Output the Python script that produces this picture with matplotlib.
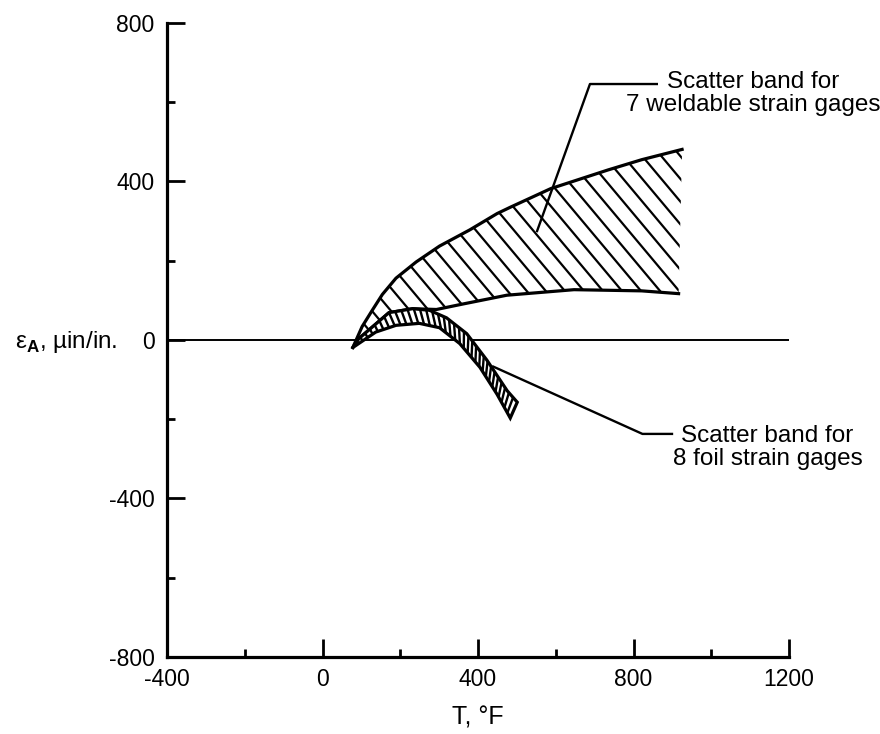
import numpy as np
import matplotlib
matplotlib.use('Agg')
import matplotlib.pyplot as plt
from matplotlib.collections import LineCollection
from matplotlib.patches import Polygon
from matplotlib.ticker import MultipleLocator

plt.rcParams['font.family'] = ['Liberation Sans', 'DejaVu Sans']
plt.rcParams['mathtext.fontset'] = 'custom'
plt.rcParams['mathtext.rm'] = 'Liberation Sans'
plt.rcParams['mathtext.bf'] = 'Liberation Sans:bold'
plt.rcParams['axes.unicode_minus'] = False

# scatter band for 7 weldable gages (T in deg F, apparent strain in microin/in.)
weld_upper_t = [78, 102, 128, 154, 189, 241, 301, 379, 449, 483, 587, 734, 821, 925]
weld_upper_e = [-19, 34, 75, 115, 156, 197, 237, 278, 319, 335, 382, 429, 455, 481]
weld_lower_t = [78, 93, 171, 232, 293, 362, 474, 647, 821, 916]
weld_lower_e = [-19, 3, 69, 79, 77, 91, 113, 127, 124, 117]

# scatter band for 8 foil gages
foil_upper_t = [78, 93, 171, 232, 275, 319, 371, 423, 475, 501]
foil_upper_e = [-19, 3, 69, 79, 75, 56, 16, -51, -128, -157]
foil_lower_t = [78, 137, 189, 249, 301, 353, 405, 449, 483]
foil_lower_e = [-19, 20, 37, 42, 31, -9, -69, -137, -197]

# leader lines for the two labels
weld_leader_t = [552, 688, 860]
weld_leader_e = [275, 646, 646]
foil_leader_t = [439, 823, 899]
foil_leader_e = [-67, -237, -237]

x_ticks = [-400, 0, 400, 800, 1200]
y_ticks = [-800, -400, 0, 400, 800]


def resample(t, e, n):
    t = np.asarray(t, float)
    e = np.asarray(e, float)
    s = np.concatenate([[0], np.cumsum(np.hypot(np.diff(t), np.diff(e)))])
    u = np.linspace(0, s[-1], n)
    return np.interp(u, s, t), np.interp(u, s, e)


fig = plt.figure(figsize=(8.8, 7.34), dpi=100)
ax = fig.add_axes([167 / 880, 1 - 657 / 734, 622 / 880, 634 / 734])
ax.set_xlim(-400, 1200)
ax.set_ylim(-800, 800)

# zero line
ax.plot([-400, 1200], [0, 0], color='black', lw=1.4, zorder=2)

# weldable band: diagonal hatch clipped to the band outline
poly_t = weld_upper_t + weld_lower_t[::-1]
poly_e = weld_upper_e + weld_lower_e[::-1]
band = Polygon(np.column_stack([poly_t, poly_e]), closed=True, facecolor='none',
               edgecolor='none', zorder=1)
ax.add_patch(band)
hatch = []
for c in np.arange(-300, 1500, 49):
    hatch.append([(c - 3 * 334, 3 * 391), (c + 3 * 334, -3 * 391)])
hc = LineCollection(hatch, colors='black', linewidths=1.6, zorder=1)
ax.add_collection(hc)
hc.set_clip_path(band)
ax.plot(weld_upper_t, weld_upper_e, color='black', lw=2.3, zorder=3)
ax.plot(weld_lower_t, weld_lower_e, color='black', lw=2.3, zorder=3)

# foil band, white fill with rungs across it
ft = foil_upper_t + foil_lower_t[::-1]
fe = foil_upper_e + foil_lower_e[::-1]
ax.fill(ft, fe, facecolor='white', edgecolor='black', lw=2.3, zorder=4)
n = 36
ut, ue = resample(foil_upper_t, foil_upper_e, n)
lt, le = resample(foil_lower_t, foil_lower_e, n)
segs = [[(ut[i], ue[i]), (lt[i], le[i])] for i in range(2, n - 1)]
ax.add_collection(LineCollection(segs, colors='black', linewidths=1.7, zorder=5))

# leaders and labels
ax.plot(weld_leader_t, weld_leader_e, color='black', lw=1.7, clip_on=False, zorder=6)
ax.plot(foil_leader_t, foil_leader_e, color='black', lw=1.7, clip_on=False, zorder=6)
ax.text(1109, 622, 'Scatter band for\n7 weldable strain gages', fontsize=17.5,
        ha='center', va='center', linespacing=1.05)
ax.text(1145, -272, 'Scatter band for\n8 foil strain gages', fontsize=17.5,
        ha='center', va='center', linespacing=1.05)

# axes styling
for side in ['top', 'right']:
    ax.spines[side].set_visible(False)
for side in ['left', 'bottom']:
    ax.spines[side].set_linewidth(2.3)
ax.set_xticks(x_ticks)
ax.set_yticks(y_ticks)
ax.xaxis.set_minor_locator(MultipleLocator(200))
ax.yaxis.set_minor_locator(MultipleLocator(200))
ax.tick_params(which='major', direction='in', length=13, width=2, labelsize=16.5, pad=8)
ax.tick_params(which='minor', direction='in', length=6, width=2)
ax.tick_params(axis='y', pad=9)
ax.set_xlabel('T, °F', fontsize=18, labelpad=10)
fig.text(15 / 880, 1 - 342 / 734, r'$\mathrm{ε}_{\mathbf{A}}$, µin/in.', fontsize=17.5,
         ha='left', va='center')

fig.savefig('out.png', dpi=100)
